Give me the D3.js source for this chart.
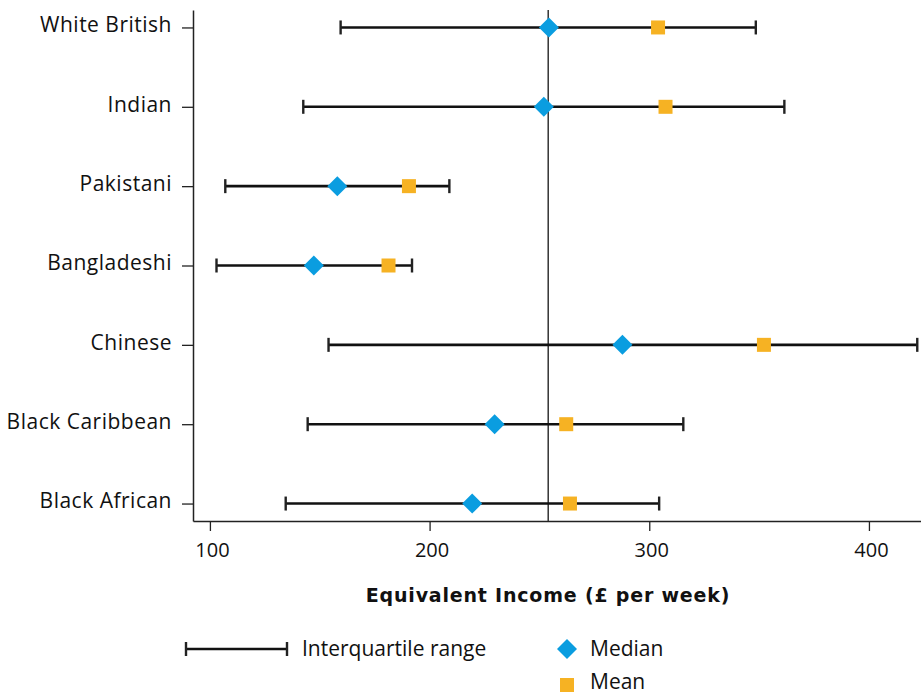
<!DOCTYPE html>
<html>
<head>
<meta charset="utf-8">
<script src="https://cdn.jsdelivr.net/npm/d3@7"></script>
<style>
  body { margin: 0; background: #fff; }
  svg { display: block; font-family: "Open Sans", sans-serif; }
</style>
</head>
<body>
<div id="chart"></div>
<script>
// Equivalent income by ethnic group: interquartile range, median and mean

const groups = ["White British", "Indian", "Pakistani", "Bangladeshi", "Chinese", "Black Caribbean", "Black African"];
const q1 =     [159.5, 142.5, 107, 103, 154, 144.5, 134.5];
const q3 =     [348.5, 361.5, 209, 192, 422, 315.5, 304.5];
const median = [254.3, 252, 158, 147.3, 287.8, 229.6, 219.4];
const mean =   [304, 307.4, 190.6, 181.3, 352.2, 262.2, 263.9];
const xTicks = [100, 200, 300, 400];
const refValue = 254;

const W = 921, H = 695;
const plot = { left: 193, right: 921, top: 10, bottom: 521 };

const blue = "#0a9de0";
const orange = "#f6b223";
const labelFont = "'Open Sans', sans-serif";

const data = groups.map((g, i) => ({ group: g, q1: q1[i], q3: q3[i], median: median[i], mean: mean[i] }));

const svg = d3.select("#chart").append("svg")
    .attr("width", W)
    .attr("height", H);

// Scales
const x = d3.scaleLinear().domain([92.3, 423.7]).range([plot.left, plot.right]);
const y = d3.scalePoint().domain(groups).range([plot.top, plot.bottom]).padding(0.22);

// X axis
const xAxis = svg.append("g")
    .attr("transform", `translate(0,${plot.bottom})`)
    .call(d3.axisBottom(x).tickValues(xTicks).tickSizeInner(10).tickSizeOuter(0).tickPadding(12));
xAxis.select(".domain").attr("stroke", "#222").attr("stroke-width", 1.5);
xAxis.selectAll(".tick line").attr("stroke", "#222").attr("stroke-width", 1.3);
xAxis.selectAll("text").attr("font-size", 20).attr("fill", "#111").attr("font-family", labelFont)
    .attr("dx", 2);

// Y axis
const yAxis = svg.append("g")
    .attr("transform", `translate(${plot.left},0)`)
    .call(d3.axisLeft(y).tickSizeInner(11).tickSizeOuter(0).tickPadding(10));
yAxis.select(".domain").attr("stroke", "#222").attr("stroke-width", 1.5);
yAxis.selectAll(".tick line").attr("stroke", "#222").attr("stroke-width", 1.3);
yAxis.selectAll("text").attr("font-size", 21).attr("fill", "#111").attr("font-family", labelFont)
    .attr("dy", "0.2em")
    .attr("letter-spacing", 0.5);

// Reference line
svg.append("line")
    .attr("x1", x(refValue)).attr("x2", x(refValue))
    .attr("y1", plot.top).attr("y2", plot.bottom)
    .attr("stroke", "#333")
    .attr("stroke-width", 1.5);

// Interquartile ranges
const rows = svg.append("g").selectAll("g")
    .data(data)
    .join("g")
    .attr("transform", d => `translate(0,${y(d.group)})`);

rows.append("line")
    .attr("x1", d => x(d.q1)).attr("x2", d => x(d.q3))
    .attr("stroke", "#111").attr("stroke-width", 2.6);

rows.selectAll(".cap")
    .data(d => [d.q1, d.q3])
    .join("line")
    .attr("class", "cap")
    .attr("x1", v => x(v)).attr("x2", v => x(v))
    .attr("y1", -7).attr("y2", 7)
    .attr("stroke", "#222").attr("stroke-width", 2.4);

// Median diamonds
const diamond = d3.symbol().type(d3.symbolSquare).size(200);
rows.append("path")
    .attr("d", diamond)
    .attr("transform", d => `translate(${x(d.median)},0) rotate(45)`)
    .attr("fill", blue);

// Mean squares
rows.append("rect")
    .attr("x", d => x(d.mean) - 7)
    .attr("y", -7)
    .attr("width", 14).attr("height", 14)
    .attr("fill", orange);

// Axis title
svg.append("text")
    .attr("x", 548)
    .attr("y", 602)
    .attr("text-anchor", "middle")
    .attr("font-family", "'DejaVu Sans', sans-serif")
    .attr("font-size", 19)
    .attr("font-weight", "bold")
    .attr("letter-spacing", 0.8)
    .attr("fill", "#111")
    .text("Equivalent Income (£ per week)");

// Legend
const legend = svg.append("g");
legend.append("line")
    .attr("x1", 186).attr("x2", 287).attr("y1", 649).attr("y2", 649)
    .attr("stroke", "#111").attr("stroke-width", 2.6);
[186, 287].forEach(v => legend.append("line")
    .attr("x1", v).attr("x2", v).attr("y1", 642).attr("y2", 656)
    .attr("stroke", "#222").attr("stroke-width", 2.4));
legend.append("text").attr("x", 302).attr("y", 656)
    .attr("font-size", 21).attr("fill", "#111").text("Interquartile range");

legend.append("path")
    .attr("d", diamond)
    .attr("transform", "translate(567,649) rotate(45)")
    .attr("fill", blue);
legend.append("text").attr("x", 590).attr("y", 656)
    .attr("font-size", 21).attr("fill", "#111").text("Median");

legend.append("rect")
    .attr("x", 560).attr("y", 678).attr("width", 14).attr("height", 14)
    .attr("fill", orange);
legend.append("text").attr("x", 590).attr("y", 689)
    .attr("font-size", 21).attr("fill", "#111").text("Mean");
</script>
</body>
</html>
